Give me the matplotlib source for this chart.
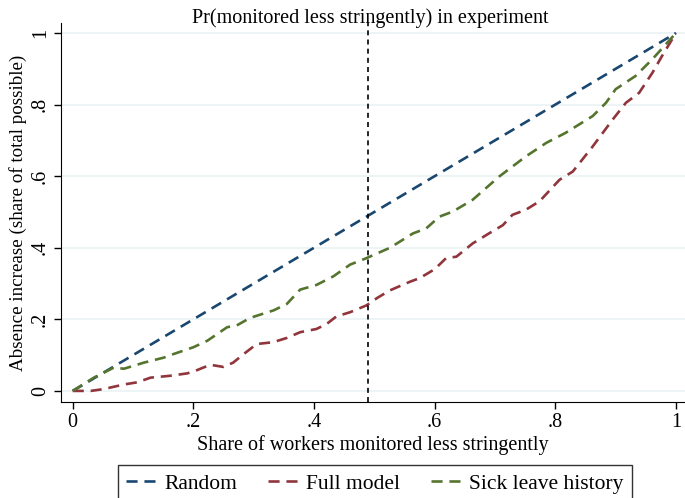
import matplotlib
matplotlib.use("Agg")
import matplotlib.pyplot as plt

# curves
random_x = [0, 1]
random_y = [0, 1]

full_x = [0, 0.03, 0.051, 0.085, 0.107, 0.129, 0.16, 0.19, 0.206, 0.228, 0.25, 0.266,
          0.285, 0.305, 0.332, 0.355, 0.377, 0.404, 0.421, 0.437, 0.46, 0.487, 0.505,
          0.526, 0.559, 0.575, 0.6, 0.619, 0.636, 0.663, 0.69, 0.713, 0.729, 0.751,
          0.774, 0.807, 0.829, 0.862, 0.895, 0.917, 0.939, 0.961, 0.977, 1.0]
full_y = [0, 0.0, 0.005, 0.018, 0.024, 0.037, 0.042, 0.049, 0.058, 0.073, 0.067, 0.079,
          0.105, 0.131, 0.136, 0.148, 0.164, 0.173, 0.187, 0.208, 0.22, 0.239, 0.26,
          0.281, 0.305, 0.315, 0.34, 0.371, 0.375, 0.412, 0.44, 0.463, 0.492, 0.506,
          0.53, 0.59, 0.613, 0.683, 0.758, 0.805, 0.833, 0.889, 0.936, 1.0]

sick_x = [0, 0.035, 0.068, 0.085, 0.118, 0.151, 0.162, 0.2, 0.223, 0.256, 0.272, 0.294,
          0.333, 0.355, 0.377, 0.404, 0.432, 0.46, 0.487, 0.526, 0.564, 0.586, 0.608,
          0.63, 0.663, 0.707, 0.751, 0.785, 0.817, 0.862, 0.884, 0.9, 0.933, 0.961, 1.0]
sick_y = [0, 0.037, 0.065, 0.062, 0.079, 0.093, 0.1, 0.122, 0.14, 0.178, 0.183, 0.204,
          0.225, 0.243, 0.283, 0.296, 0.32, 0.353, 0.371, 0.4, 0.44, 0.454, 0.487,
          0.501, 0.534, 0.599, 0.655, 0.693, 0.721, 0.768, 0.805, 0.843, 0.88, 0.927, 1.0]

cutoff = 0.489

plt.rcParams['font.family'] = ['Liberation Serif', 'DejaVu Serif']
fs = 14.5

fig = plt.figure(figsize=(6.85, 4.98), dpi=100)
ax = fig.add_axes([61/685, 96/498, 624/685, 379/498])

dash = (0, (4.2, 2.6))
ax.plot(random_x, random_y, color='#1a476f', lw=1.9, linestyle=dash, label='Random')
ax.plot(full_x, full_y, color='#90353b', lw=1.9, linestyle=dash, label='Full model')
ax.plot(sick_x, sick_y, color='#55752f', lw=1.9, linestyle=dash, label='Sick leave history')
ax.axvline(cutoff, color='black', lw=1.2, linestyle=(0, (3, 2.5)))

ax.set_xlim(-0.0194, 1.015)
ax.set_ylim(-0.031, 1.028)
ticks = [0, 0.2, 0.4, 0.6, 0.8, 1]
labels = ['0', '.2', '.4', '.6', '.8', '1']
ax.set_xticks(ticks)
ax.set_xticklabels(labels)
ax.set_yticks(ticks)
ax.set_yticklabels(labels, rotation=90, va='center')
ax.tick_params(axis='both', direction='out', length=5, width=1, labelsize=fs, pad=3)
ax.grid(axis='y', color='#eaf2f3', lw=1.2)
ax.set_axisbelow(True)
for s in ['top', 'right']:
    ax.spines[s].set_visible(False)

ax.set_xlabel('Share of workers monitored less stringently', fontsize=fs, labelpad=2)
ax.set_ylabel('Absence increase (share of total possible)', fontsize=13.7)
ax.yaxis.set_label_coords(-0.054, 0.5)
fig.text(370/685, 1 - 23/498, 'Pr(monitored less stringently) in experiment',
         fontsize=fs, ha='center', va='baseline')

leg = fig.legend(loc='upper center', bbox_to_anchor=(375/685, 1 - 465/498), ncol=3,
                 fontsize=15.5, frameon=True, fancybox=False, edgecolor='black',
                 handlelength=1.4, handletextpad=0.37, columnspacing=1.44,
                 borderpad=0.4, borderaxespad=0)
leg.get_frame().set_linewidth(1)

fig.savefig('out.png', dpi=100)
